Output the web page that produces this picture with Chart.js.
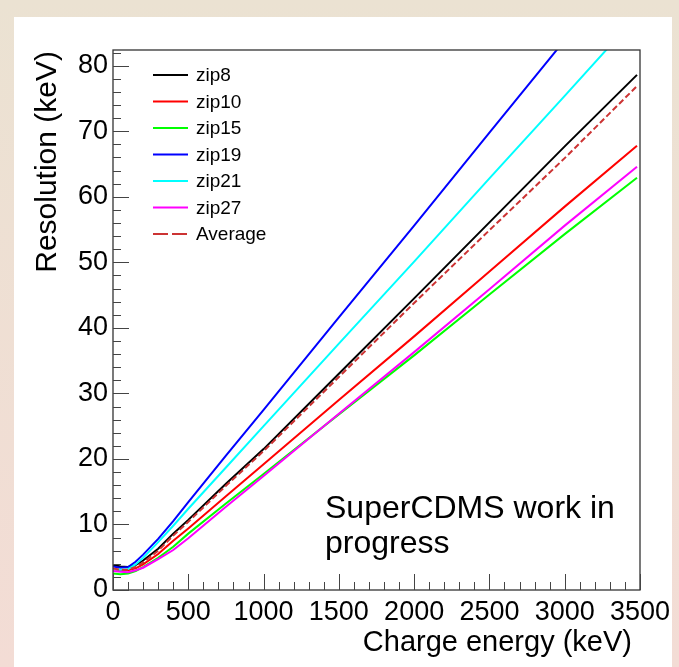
<!DOCTYPE html>
<html>
<head>
<meta charset="utf-8">
<script src="https://cdn.jsdelivr.net/npm/chart.js@4/dist/chart.umd.min.js"></script>
<style>
  html, body { margin: 0; padding: 0; overflow: hidden; background: #ece2d2; }
  canvas { display: block; }
</style>
</head>
<body>
<canvas id="c" width="679" height="667"></canvas>
<script>
// Charge energy sample points (keV)
const energy = [0, 50, 100, 150, 200, 300, 400, 500, 750, 1000, 1500, 2000, 2500, 3000, 3480];

// Resolution (keV) per detector
const zip8  = [3.8, 3.6, 3.5, 3.8, 4.5, 6.3, 8.6, 10.7, 16.2, 21.5, 33.0, 44.5, 56.1, 67.7, 78.6];
const zip10 = [3.2, 3.0, 3.0, 3.3, 3.9, 5.5, 7.5, 9.4, 14.3, 19.2, 29.0, 38.7, 48.6, 58.5, 67.8];
const zip15 = [2.5, 2.4, 2.5, 2.9, 3.5, 4.9, 6.6, 8.6, 13.2, 17.7, 26.8, 35.8, 45.1, 54.3, 62.9];
const zip19 = [3.6, 3.4, 3.5, 4.3, 5.4, 7.8, 10.5, 13.4, 20.5, 27.5, 41.6, 55.6, 69.8, 83.9, 97.4];
const zip21 = [3.2, 3.1, 3.2, 3.9, 4.9, 7.3, 9.8, 12.4, 18.7, 25.0, 37.6, 50.1, 62.8, 75.4, 87.6];
const zip27 = [2.9, 2.8, 2.7, 3.0, 3.4, 4.7, 6.1, 7.9, 12.7, 17.4, 26.9, 36.3, 45.9, 55.6, 64.6];
const average = [3.3, 3.1, 3.1, 3.5, 4.2, 6.0, 8.3, 10.4, 15.9, 21.2, 32.5, 43.8, 54.9, 65.9, 76.9];

// Axis ranges and tick labels
const xRange = [0, 3500];
const yRange = [0, 82.4];
const xTickLabels = ['0', '500', '1000', '1500', '2000', '2500', '3000', '3500'];
const yTickLabels = ['0', '10', '20', '30', '40', '50', '60', '70', '80'];

const FONT = "'Liberation Sans', Arial, Helvetica, sans-serif";

const seriesDefs = [
  { label: 'zip8',    values: zip8,    color: '#000000', dash: [],      order: 6 },
  { label: 'zip10',   values: zip10,   color: '#ff0000', dash: [],      order: 5 },
  { label: 'zip15',   values: zip15,   color: '#00ff00', dash: [],      order: 4 },
  { label: 'zip19',   values: zip19,   color: '#0000ff', dash: [],      order: 3 },
  { label: 'zip21',   values: zip21,   color: '#00ffff', dash: [],      order: 2 },
  { label: 'zip27',   values: zip27,   color: '#ff00ff', dash: [],      order: 1 },
  { label: 'Average', values: average, color: '#cc3333', dash: [6, 3],  order: 0 }
];

const datasets = seriesDefs.map(s => ({
  label: s.label,
  data: energy.map((e, i) => ({ x: e, y: s.values[i] })),
  borderColor: s.color,
  backgroundColor: s.color,
  borderWidth: 2,
  borderDash: s.dash,
  pointRadius: 0,
  tension: 0,
  fill: false,
  clip: 0,
  order: s.order
}));

// Page background and white pad
const backdrop = {
  id: 'backdrop',
  beforeDraw(chart) {
    const ctx = chart.ctx;
    ctx.save();
    const g = ctx.createLinearGradient(0, 0, 0, chart.height);
    g.addColorStop(0, '#ebe2d2');
    g.addColorStop(1, '#f3dcd5');
    ctx.fillStyle = g;
    ctx.fillRect(0, 0, chart.width, chart.height);
    ctx.fillStyle = '#ffffff';
    ctx.fillRect(14, 17, 658, 650);
    ctx.restore();
  }
};

// Frame plus inward-pointing major/minor ticks
const frameTicks = {
  id: 'frameTicks',
  afterDatasetsDraw(chart) {
    const { ctx, chartArea: a, scales } = chart;
    const xs = scales.x, ys = scales.y;
    ctx.save();
    ctx.strokeStyle = '#333333';
    ctx.lineWidth = 1.3;
    ctx.strokeRect(a.left, a.top, a.right - a.left, a.bottom - a.top);
    ctx.strokeStyle = '#444444';
    ctx.lineWidth = 1;
    ctx.beginPath();
    for (let v = xRange[0]; v <= xRange[1]; v += 100) {
      const px = Math.round(xs.getPixelForValue(v)) + 0.5;
      const len = v % 500 === 0 ? 16 : 8;
      ctx.moveTo(px, a.bottom);
      ctx.lineTo(px, a.bottom - len);
    }
    for (let v = 0; v <= yRange[1]; v += 2) {
      const py = Math.round(ys.getPixelForValue(v)) + 0.5;
      const len = v % 10 === 0 ? 16 : 8;
      ctx.moveTo(a.left, py);
      ctx.lineTo(a.left + len, py);
    }
    ctx.stroke();
    ctx.restore();
  }
};

// Legend box, axis titles and note
const annotations = {
  id: 'annotations',
  afterDraw(chart) {
    const ctx = chart.ctx;
    ctx.save();
    // legend
    ctx.font = '19px ' + FONT;
    ctx.textBaseline = 'middle';
    ctx.textAlign = 'left';
    seriesDefs.forEach((s, i) => {
      const y = 75 + i * 26.5;
      ctx.strokeStyle = s.color;
      ctx.lineWidth = 2;
      ctx.setLineDash(s.dash.length ? [15, 4] : []);
      ctx.beginPath();
      ctx.moveTo(153, y);
      ctx.lineTo(188, y);
      ctx.stroke();
      ctx.setLineDash([]);
      ctx.fillStyle = '#000';
      ctx.fillText(s.label, 196, y + 1);
    });
    // x title
    ctx.font = '29px ' + FONT;
    ctx.textBaseline = 'alphabetic';
    ctx.textAlign = 'right';
    ctx.fillText('Charge energy (keV)', 632, 651);
    // y title
    ctx.font = '30px ' + FONT;
    ctx.save();
    ctx.translate(56, 51);
    ctx.rotate(-Math.PI / 2);
    ctx.textAlign = 'right';
    ctx.fillText('Resolution (keV)', 0, 0);
    ctx.restore();
    // note
    ctx.font = '32px ' + FONT;
    ctx.textAlign = 'left';
    ctx.fillText('SuperCDMS work in', 325, 518);
    ctx.fillText('progress', 325, 553);
    ctx.restore();
  }
};

new Chart(document.getElementById('c'), {
  type: 'line',
  data: { datasets },
  options: {
    responsive: false,
    animation: false,
    devicePixelRatio: 1,
    layout: { padding: { left: 14, top: 50, right: 39, bottom: 0 } },
    plugins: { legend: { display: false }, tooltip: { enabled: false } },
    scales: {
      x: {
        type: 'linear',
        min: xRange[0],
        max: xRange[1],
        grid: { display: false, drawTicks: false },
        border: { display: false },
        afterBuildTicks(scale) {
          scale.ticks = xTickLabels.map(t => ({ value: Number(t) }));
        },
        afterFit(scale) { scale.height = 77; },
        ticks: {
          autoSkip: false,
          maxRotation: 0,
          padding: 6,
          color: '#000',
          font: { family: FONT, size: 27 },
          callback: v => String(v)
        }
      },
      y: {
        type: 'linear',
        min: yRange[0],
        max: yRange[1],
        grid: { display: false, drawTicks: false },
        border: { display: false },
        afterBuildTicks(scale) {
          scale.ticks = yTickLabels.map(t => ({ value: Number(t) }));
        },
        afterFit(scale) { scale.width = 99; },
        ticks: {
          autoSkip: false,
          padding: 5,
          color: '#000',
          font: { family: FONT, size: 27 },
          callback: v => String(v)
        }
      }
    }
  },
  plugins: [backdrop, frameTicks, annotations]
});
</script>
</body>
</html>
